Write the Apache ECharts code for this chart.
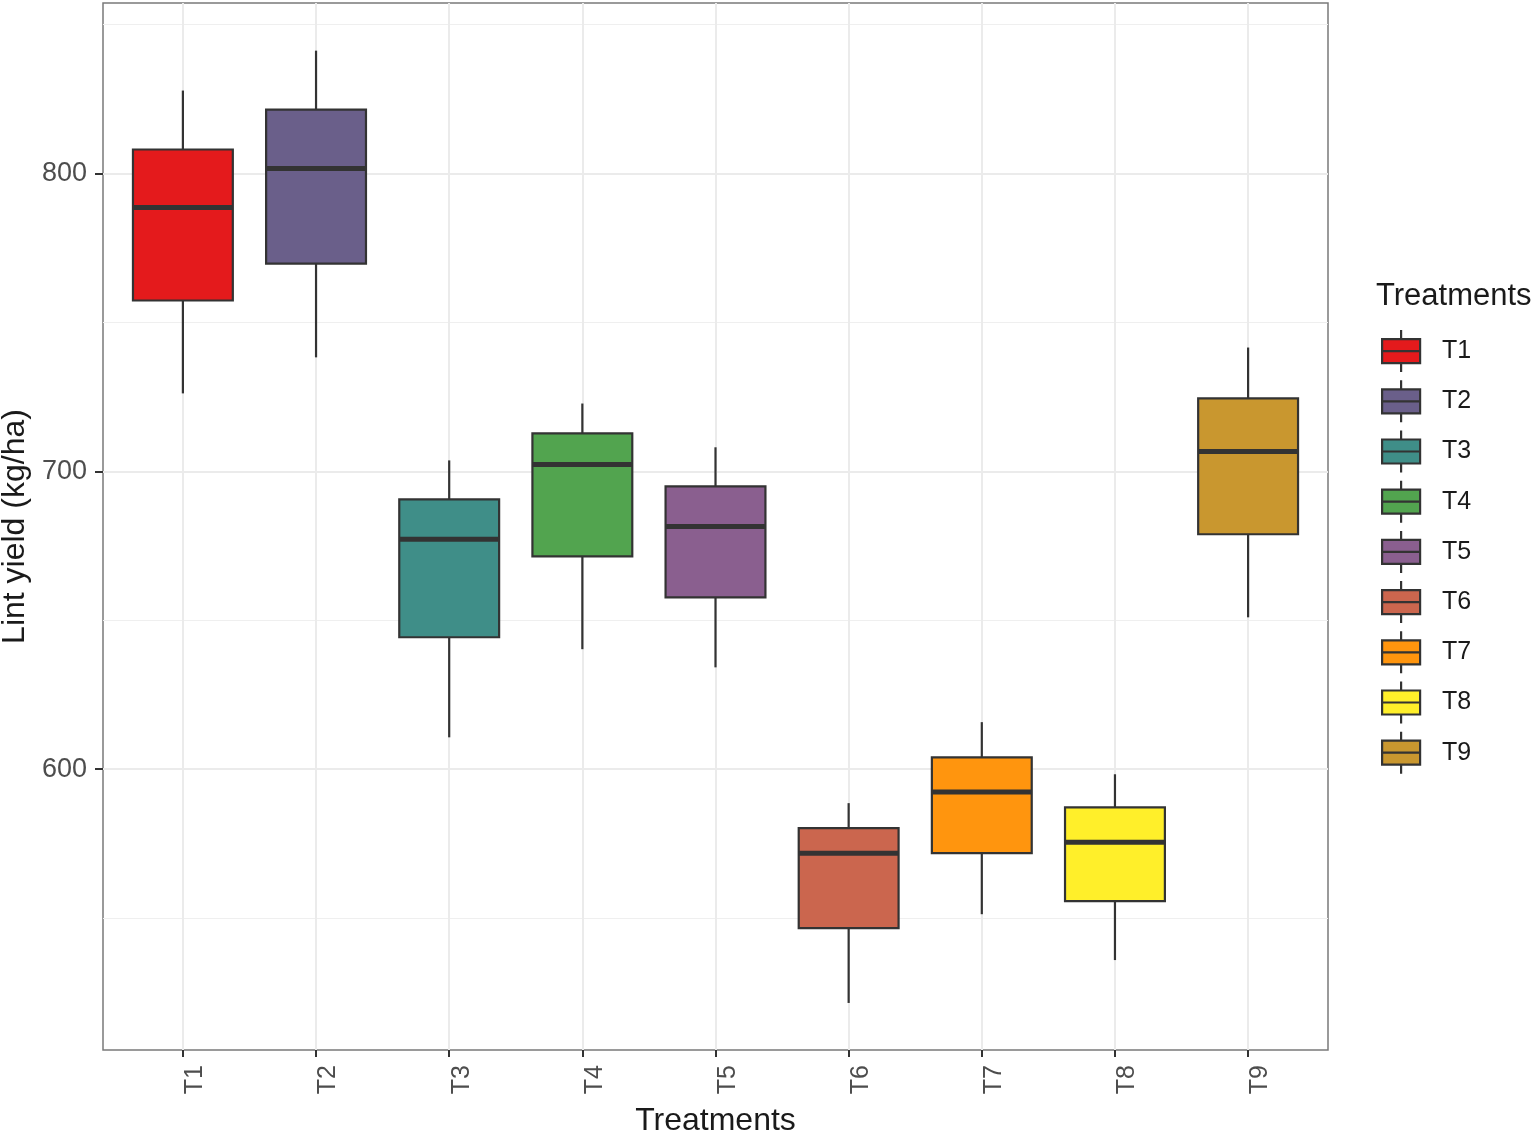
<!DOCTYPE html>
<html>
<head>
<meta charset="utf-8">
<title>Lint yield by treatment</title>
<script src="https://cdn.jsdelivr.net/npm/echarts@6/dist/echarts.min.js"></script>
<style>
  html, body { margin: 0; padding: 0; background: #fff; }
  #main { width: 1535px; height: 1133px; }
</style>
</head>
<body>
<div id="main"></div>
<script>
// values (kg/ha)
var treatments = ['T1', 'T2', 'T3', 'T4', 'T5', 'T6', 'T7', 'T8', 'T9'];
var whiskerLow = [726.2, 738.3, 610.7, 640.3, 634.2, 521.5, 551.3, 535.9, 651.0];
var q1 = [757.4, 769.8, 644.3, 671.5, 657.7, 546.6, 571.8, 555.7, 678.9];
var median = [788.6, 801.7, 677.2, 702.3, 681.5, 571.8, 592.3, 575.5, 706.7];
var q3 = [808.1, 821.5, 690.6, 712.8, 695.0, 580.2, 604.0, 587.2, 724.5];
var whiskerHigh = [827.9, 841.3, 703.7, 722.8, 708.1, 588.6, 615.8, 598.3, 741.6];
var yTicks = [600, 700, 800];
var yMinorTicks = [550, 650, 750, 850];

var colors = ['#E41A1C', '#6A5F8A', '#3F8E88', '#52A44F', '#8A5F8F', '#CB664E', '#FF950E', '#FFEF2A', '#C9972F'];

var font = 'Liberation Sans, Arial, sans-serif';
var boxIcon = 'path://M20 0 L20 9 M1 9 L39 9 L39 33 L1 33 Z M1 21 L39 21 M20 33 L20 42';

function renderBox(params, api) {
  var x = api.value(0);
  var lo = api.coord([x, api.value(1)]);
  var b1 = api.coord([x, api.value(2)]);
  var md = api.coord([x, api.value(3)]);
  var b3 = api.coord([x, api.value(4)]);
  var hi = api.coord([x, api.value(5)]);
  var half = api.size([0.75, 0])[0] / 2;
  var dark = '#333333';
  return {
    type: 'group',
    children: [
      { type: 'line', shape: { x1: lo[0], y1: lo[1], x2: b1[0], y2: b1[1] }, style: { stroke: dark, lineWidth: 2.2 } },
      { type: 'line', shape: { x1: b3[0], y1: b3[1], x2: hi[0], y2: hi[1] }, style: { stroke: dark, lineWidth: 2.2 } },
      { type: 'rect', shape: { x: b3[0] - half, y: b3[1], width: half * 2, height: b1[1] - b3[1] },
        style: { fill: api.visual('color'), stroke: dark, lineWidth: 2.2 } },
      { type: 'line', shape: { x1: md[0] - half, y1: md[1], x2: md[0] + half, y2: md[1] }, style: { stroke: dark, lineWidth: 5 } }
    ]
  };
}

var series = treatments.map(function (name, i) {
  return {
    name: name,
    type: 'custom',
    renderItem: renderBox,
    itemStyle: { color: colors[i] },
    encode: { x: 0, y: [1, 2, 3, 4, 5] },
    data: [[i, whiskerLow[i], q1[i], median[i], q3[i], whiskerHigh[i]]]
  };
});

var chart = echarts.init(document.getElementById('main'));
var option = {
  backgroundColor: '#ffffff',
  animation: false,
  title: {
    text: 'Treatments',
    left: 1371,
    top: 276,
    textStyle: { fontFamily: font, fontSize: 31, fontWeight: 'normal', color: '#1a1a1a' }
  },
  legend: {
    orient: 'vertical',
    left: 1376,
    top: 324,
    itemWidth: 40,
    itemHeight: 42,
    itemGap: 6,
    icon: boxIcon,
    itemStyle: { borderColor: '#333333', borderWidth: 2.2 },
    textStyle: { fontFamily: font, fontSize: 25, color: '#1a1a1a', padding: [0, 0, 0, 16] },
    data: treatments
  },
  grid: {
    left: 103,
    right: 207,
    top: 3,
    bottom: 83,
    outerBoundsMode: 'none',
    containLabel: false,
    show: true,
    borderColor: '#7a7a7a',
    borderWidth: 1.5,
    backgroundColor: '#ffffff'
  },
  xAxis: {
    type: 'value',
    min: -0.6,
    max: 8.6,
    name: 'Treatments',
    nameLocation: 'middle',
    nameGap: 55,
    nameTextStyle: { fontFamily: font, fontSize: 32, color: '#1a1a1a' },
    axisLine: { show: false, onZero: false },
    axisTick: { show: true, customValues: [0, 1, 2, 3, 4, 5, 6, 7, 8], length: 7, lineStyle: { color: '#333333', width: 2 } },
    axisLabel: {
      customValues: [0, 1, 2, 3, 4, 5, 6, 7, 8],
      rotate: 90,
      margin: 15,
      verticalAlign: 'top',
      fontFamily: font,
      fontSize: 25,
      color: '#4d4d4d',
      formatter: function (v) { return treatments[Math.round(v)]; }
    },
    splitLine: { show: true, lineStyle: { color: '#ebebeb', width: 2 } }
  },
  yAxis: [{
    type: 'value',
    min: 505.7,
    max: 857.3,
    name: 'Lint yield (kg/ha)',
    nameLocation: 'middle',
    nameGap: 71,
    nameTextStyle: { fontFamily: font, fontSize: 32, color: '#1a1a1a' },
    axisLine: { show: false, onZero: false },
    axisTick: { show: true, customValues: yTicks, length: 8, lineStyle: { color: '#333333', width: 2 } },
    axisLabel: { customValues: yTicks, margin: 16, fontFamily: font, fontSize: 27, color: '#4d4d4d' },
    splitLine: { show: true, lineStyle: { color: '#ebebeb', width: 2 } }
  }, {
    type: 'value',
    position: 'left',
    min: 505.7,
    max: 857.3,
    axisLine: { show: false, onZero: false },
    axisTick: { show: false, customValues: yMinorTicks },
    axisLabel: { show: false, customValues: yMinorTicks },
    splitLine: { show: true, lineStyle: { color: '#efefef', width: 1.2 } }
  }],
  series: series
};
chart.setOption(option);
</script>
</body>
</html>
